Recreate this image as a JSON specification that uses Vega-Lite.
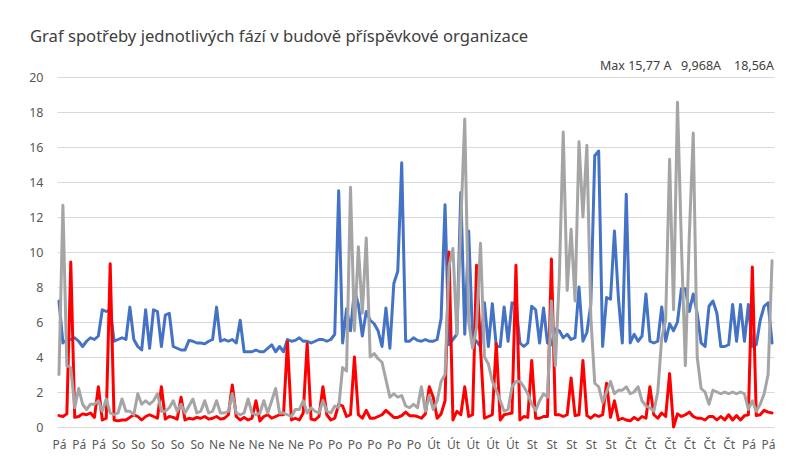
{
 "$schema": "https://vega.github.io/schema/vega-lite/v6.json",
 "width": 717,
 "height": 350,
 "autosize": {"type": "none"},
 "padding": {"left": 57, "top": 77, "right": 19, "bottom": 42},
 "background": "white",
 "title": {"text": "Graf spotřeby jednotlivých fází v budově příspěvkové organizace", "anchor": "start", "frame": "group", "dx": -27, "offset": 14, "fontSize": 16.6, "font": "Noto Sans", "fontWeight": "normal", "color": "#404040"},
 "config": {"view": {"stroke": null}, "font": "Noto Sans"},
 "layer": [
  {
   "data": {"values": [
{"i":0,"L1":7.2,"L2":0.65,"L3":3.0},{"i":1,"L1":4.8,"L2":0.6,"L3":12.67},{"i":2,"L1":5.0,"L2":0.75,"L3":3.5},{"i":3,"L1":5.0,"L2":9.43,"L3":3.4},{"i":4,"L1":5.1,"L2":0.55,"L3":1.1},{"i":5,"L1":4.9,"L2":0.6,"L3":2.2},{"i":6,"L1":4.6,"L2":0.75,"L3":1.3},{"i":7,"L1":4.9,"L2":0.7,"L3":1.0},{"i":8,"L1":5.1,"L2":0.8,"L3":1.3},{"i":9,"L1":5.0,"L2":0.55,"L3":1.3},
{"i":10,"L1":5.2,"L2":2.3,"L3":1.5},{"i":11,"L1":6.7,"L2":0.4,"L3":0.9},{"i":12,"L1":6.6,"L2":0.5,"L3":1.6},{"i":13,"L1":6.7,"L2":9.33,"L3":0.8},{"i":14,"L1":4.9,"L2":0.4,"L3":0.7},{"i":15,"L1":5.0,"L2":0.35,"L3":0.8},{"i":16,"L1":5.1,"L2":0.4,"L3":1.6},{"i":17,"L1":5.0,"L2":0.4,"L3":0.9},{"i":18,"L1":6.85,"L2":0.55,"L3":0.9},{"i":19,"L1":5.0,"L2":0.7,"L3":0.7},
{"i":20,"L1":4.6,"L2":0.6,"L3":1.9},{"i":21,"L1":4.4,"L2":0.4,"L3":1.3},{"i":22,"L1":6.7,"L2":0.6,"L3":1.5},{"i":23,"L1":4.5,"L2":0.7,"L3":1.3},{"i":24,"L1":6.7,"L2":0.6,"L3":1.5},{"i":25,"L1":6.6,"L2":0.5,"L3":1.9},{"i":26,"L1":4.6,"L2":2.3,"L3":0.9},{"i":27,"L1":6.4,"L2":0.45,"L3":0.9},{"i":28,"L1":6.5,"L2":0.6,"L3":1.1},{"i":29,"L1":4.6,"L2":0.55,"L3":1.5},
{"i":30,"L1":4.5,"L2":0.45,"L3":0.9},{"i":31,"L1":4.4,"L2":1.7,"L3":1.3},{"i":32,"L1":4.4,"L2":0.4,"L3":0.8},{"i":33,"L1":4.95,"L2":0.5,"L3":1.2},{"i":34,"L1":4.9,"L2":0.45,"L3":1.6},{"i":35,"L1":4.8,"L2":0.55,"L3":0.8},{"i":36,"L1":4.8,"L2":0.5,"L3":0.9},{"i":37,"L1":4.75,"L2":0.6,"L3":1.5},{"i":38,"L1":4.9,"L2":0.45,"L3":0.8},{"i":39,"L1":5.0,"L2":0.5,"L3":0.9},
{"i":40,"L1":6.85,"L2":0.6,"L3":1.5},{"i":41,"L1":4.9,"L2":0.45,"L3":0.8},{"i":42,"L1":5.0,"L2":0.5,"L3":0.8},{"i":43,"L1":4.9,"L2":0.7,"L3":0.9},{"i":44,"L1":5.0,"L2":2.4,"L3":1.9},{"i":45,"L1":4.8,"L2":0.6,"L3":0.8},{"i":46,"L1":6.1,"L2":0.4,"L3":0.7},{"i":47,"L1":4.3,"L2":0.55,"L3":0.8},{"i":48,"L1":4.3,"L2":0.4,"L3":1.6},{"i":49,"L1":4.3,"L2":0.5,"L3":0.8},
{"i":50,"L1":4.4,"L2":1.5,"L3":0.7},{"i":51,"L1":4.3,"L2":0.35,"L3":0.8},{"i":52,"L1":4.3,"L2":0.6,"L3":1.5},{"i":53,"L1":4.5,"L2":0.7,"L3":0.8},{"i":54,"L1":4.7,"L2":0.5,"L3":1.5},{"i":55,"L1":4.3,"L2":0.6,"L3":2.2},{"i":56,"L1":4.6,"L2":0.7,"L3":0.8},{"i":57,"L1":4.3,"L2":0.7,"L3":0.8},{"i":58,"L1":5.0,"L2":4.86,"L3":0.7},{"i":59,"L1":4.9,"L2":0.4,"L3":0.6},
{"i":60,"L1":4.95,"L2":0.5,"L3":1.0},{"i":61,"L1":5.1,"L2":0.4,"L3":1.0},{"i":62,"L1":4.9,"L2":0.8,"L3":1.5},{"i":63,"L1":4.9,"L2":4.76,"L3":0.8},{"i":64,"L1":4.8,"L2":0.45,"L3":1.1},{"i":65,"L1":4.9,"L2":0.4,"L3":0.9},{"i":66,"L1":5.0,"L2":0.6,"L3":0.8},{"i":67,"L1":5.0,"L2":2.3,"L3":1.5},{"i":68,"L1":4.9,"L2":0.7,"L3":0.9},{"i":69,"L1":5.0,"L2":0.4,"L3":0.8},
{"i":70,"L1":5.3,"L2":0.5,"L3":1.2},{"i":71,"L1":13.5,"L2":1.3,"L3":1.1},{"i":72,"L1":4.8,"L2":1.2,"L3":3.4},{"i":73,"L1":6.75,"L2":0.6,"L3":3.2},{"i":74,"L1":5.5,"L2":0.7,"L3":13.7},{"i":75,"L1":7.8,"L2":4.0,"L3":5.5},{"i":76,"L1":7.0,"L2":0.7,"L3":10.3},{"i":77,"L1":5.2,"L2":0.5,"L3":6.5},{"i":78,"L1":6.6,"L2":0.95,"L3":10.8},{"i":79,"L1":6.1,"L2":0.5,"L3":4.0},
{"i":80,"L1":5.9,"L2":0.5,"L3":4.2},{"i":81,"L1":5.5,"L2":0.6,"L3":3.9},{"i":82,"L1":4.6,"L2":0.7,"L3":3.7},{"i":83,"L1":6.8,"L2":0.95,"L3":2.7},{"i":84,"L1":4.5,"L2":0.75,"L3":1.7},{"i":85,"L1":8.2,"L2":0.55,"L3":1.9},{"i":86,"L1":8.9,"L2":0.55,"L3":1.7},{"i":87,"L1":15.1,"L2":0.65,"L3":1.8},{"i":88,"L1":4.9,"L2":0.85,"L3":1.2},{"i":89,"L1":4.9,"L2":0.65,"L3":1.1},
{"i":90,"L1":5.1,"L2":0.65,"L3":1.3},{"i":91,"L1":4.95,"L2":0.6,"L3":1.1},{"i":92,"L1":4.9,"L2":0.5,"L3":2.3},{"i":93,"L1":5.0,"L2":0.75,"L3":0.9},{"i":94,"L1":4.9,"L2":2.3,"L3":1.8},{"i":95,"L1":4.9,"L2":1.7,"L3":1.0},{"i":96,"L1":5.0,"L2":0.5,"L3":1.5},{"i":97,"L1":6.2,"L2":0.75,"L3":2.6},{"i":98,"L1":12.7,"L2":1.5,"L3":3.0},{"i":99,"L1":4.7,"L2":10.0,"L3":9.2},
{"i":100,"L1":5.0,"L2":0.4,"L3":10.2},{"i":101,"L1":5.3,"L2":0.9,"L3":5.3},{"i":102,"L1":13.4,"L2":0.7,"L3":11.6},{"i":103,"L1":5.3,"L2":2.3,"L3":17.6},{"i":104,"L1":11.2,"L2":0.6,"L3":6.0},{"i":105,"L1":5.1,"L2":0.7,"L3":4.5},{"i":106,"L1":4.9,"L2":9.24,"L3":5.7},{"i":107,"L1":4.6,"L2":4.5,"L3":10.5},{"i":108,"L1":7.1,"L2":0.5,"L3":4.0},{"i":109,"L1":4.6,"L2":0.6,"L3":3.6},
{"i":110,"L1":7.05,"L2":0.7,"L3":2.6},{"i":111,"L1":4.6,"L2":4.76,"L3":2.1},{"i":112,"L1":4.6,"L2":0.4,"L3":1.5},{"i":113,"L1":6.86,"L2":0.7,"L3":0.9},{"i":114,"L1":4.9,"L2":0.75,"L3":1.0},{"i":115,"L1":7.1,"L2":0.8,"L3":2.3},{"i":116,"L1":7.0,"L2":9.24,"L3":2.6},{"i":117,"L1":4.8,"L2":0.4,"L3":2.6},{"i":118,"L1":4.6,"L2":0.6,"L3":2.3},{"i":119,"L1":4.8,"L2":0.55,"L3":1.9},
{"i":120,"L1":6.9,"L2":3.8,"L3":1.3},{"i":121,"L1":6.7,"L2":0.5,"L3":0.95},{"i":122,"L1":4.8,"L2":0.5,"L3":1.5},{"i":123,"L1":6.8,"L2":0.6,"L3":1.9},{"i":124,"L1":4.8,"L2":0.6,"L3":1.7},{"i":125,"L1":4.7,"L2":9.6,"L3":7.2},{"i":126,"L1":5.6,"L2":0.7,"L3":3.5},{"i":127,"L1":5.5,"L2":0.7,"L3":8.5},{"i":128,"L1":5.1,"L2":0.6,"L3":16.86},{"i":129,"L1":5.3,"L2":0.7,"L3":7.8},
{"i":130,"L1":5.0,"L2":2.8,"L3":11.3},{"i":131,"L1":5.1,"L2":0.65,"L3":7.2},{"i":132,"L1":8.0,"L2":0.7,"L3":16.3},{"i":133,"L1":4.9,"L2":3.8,"L3":12.0},{"i":134,"L1":5.4,"L2":0.65,"L3":16.1},{"i":135,"L1":7.0,"L2":0.5,"L3":6.3},{"i":136,"L1":15.5,"L2":0.7,"L3":2.5},{"i":137,"L1":15.77,"L2":0.6,"L3":2.3},{"i":138,"L1":4.6,"L2":0.7,"L3":1.4},{"i":139,"L1":7.4,"L2":2.5,"L3":2.0},
{"i":140,"L1":7.3,"L2":0.55,"L3":2.6},{"i":141,"L1":11.2,"L2":1.5,"L3":1.9},{"i":142,"L1":7.4,"L2":0.4,"L3":2.1},{"i":143,"L1":4.8,"L2":0.5,"L3":2.1},{"i":144,"L1":13.3,"L2":0.4,"L3":2.3},{"i":145,"L1":4.8,"L2":0.35,"L3":1.9},{"i":146,"L1":5.3,"L2":0.55,"L3":2.0},{"i":147,"L1":4.9,"L2":0.4,"L3":2.3},{"i":148,"L1":5.2,"L2":0.6,"L3":1.5},{"i":149,"L1":7.6,"L2":0.5,"L3":1.2},
{"i":150,"L1":4.9,"L2":2.3,"L3":1.1},{"i":151,"L1":4.8,"L2":0.7,"L3":0.9},{"i":152,"L1":4.9,"L2":0.5,"L3":2.0},{"i":153,"L1":6.86,"L2":0.8,"L3":5.1},{"i":154,"L1":4.9,"L2":0.6,"L3":6.1},{"i":155,"L1":5.9,"L2":3.05,"L3":15.3},{"i":156,"L1":5.5,"L2":0.0,"L3":6.7},{"i":157,"L1":6.0,"L2":0.75,"L3":18.56},{"i":158,"L1":7.9,"L2":0.6,"L3":10.4},{"i":159,"L1":7.9,"L2":0.7,"L3":3.5},
{"i":160,"L1":6.6,"L2":0.85,"L3":10.9},{"i":161,"L1":7.6,"L2":0.6,"L3":16.8},{"i":162,"L1":6.5,"L2":0.5,"L3":4.0},{"i":163,"L1":4.8,"L2":0.5,"L3":2.2},{"i":164,"L1":4.6,"L2":0.4,"L3":2.0},{"i":165,"L1":6.9,"L2":0.6,"L3":1.3},{"i":166,"L1":7.2,"L2":0.6,"L3":2.1},{"i":167,"L1":6.5,"L2":0.4,"L3":2.0},{"i":168,"L1":4.6,"L2":0.6,"L3":1.9},{"i":169,"L1":4.6,"L2":0.4,"L3":2.0},
{"i":170,"L1":4.7,"L2":0.7,"L3":1.9},{"i":171,"L1":7.0,"L2":0.4,"L3":2.0},{"i":172,"L1":4.9,"L2":0.65,"L3":1.9},{"i":173,"L1":7.0,"L2":0.4,"L3":2.0},{"i":174,"L1":4.9,"L2":0.65,"L3":1.9},{"i":175,"L1":7.0,"L2":0.7,"L3":1.0},{"i":176,"L1":4.6,"L2":9.14,"L3":1.5},{"i":177,"L1":4.7,"L2":0.65,"L3":0.9},{"i":178,"L1":6.1,"L2":0.7,"L3":1.3},{"i":179,"L1":6.9,"L2":0.95,"L3":1.9},
{"i":180,"L1":7.1,"L2":0.85,"L3":3.0},{"i":181,"L1":4.8,"L2":0.8,"L3":9.5}
   ]},
   "transform": [{"fold": ["L1", "L2", "L3"], "as": ["faze", "A"]}],
   "mark": {"type": "line", "strokeWidth": 3, "strokeJoin": "round", "strokeCap": "round"},
   "encoding": {
    "x": {"field": "i", "type": "quantitative", "scale": {"domain": [-0.5, 181.5], "nice": false, "zero": false},
          "axis": {"title": null, "tickCount": 200, "values": [0,5,10,15,20,25,30,35,40,45,50,55,60,65,70,75,80,85,90,95,100,105,110,115,120,125,130,135,140,145,150,155,160,165,170,175,180],
                   "labelExpr": "['Pá','Pá','Pá','So','So','So','So','So','Ne','Ne','Ne','Ne','Ne','Po','Po','Po','Po','Po','Po','Út','Út','Út','Út','Út','St','St','St','St','St','Čt','Čt','Čt','Čt','Čt','Čt','Pá','Pá'][round(datum.value/5)]",
                   "grid": false, "ticks": false, "domain": false, "labelFontSize": 12, "labelColor": "#595959", "labelPadding": 12, "labelOverlap": false, "labelFlush": false}},
    "y": {"field": "A", "type": "quantitative", "scale": {"domain": [0, 20], "nice": false},
          "axis": {"title": null, "tickCount": 50, "format": "d", "values": [0,2,4,6,8,10,12,14,16,18,20], "grid": true, "gridColor": "#d9d9d9", "gridWidth": 1, "domain": false, "ticks": false, "labelFontSize": 12.5, "labelColor": "#595959", "labelPadding": 14, "labelOverlap": false}},
    "color": {"field": "faze", "type": "nominal", "scale": {"domain": ["L1", "L2", "L3"], "range": ["#4472C4", "#FF0000", "#A5A5A5"]}, "legend": null}
   }
  },
  {
   "data": {"values": [{"t": "Max 15,77 A\u00a0\u00a0 9,968A\u00a0\u00a0\u00a0 18,56A"}]},
   "mark": {"type": "text", "align": "right", "baseline": "alphabetic", "fontSize": 12.5, "color": "#404040", "dy": -7},
   "encoding": {
    "x": {"datum": 181.5, "type": "quantitative"},
    "y": {"datum": 20, "type": "quantitative"},
    "text": {"field": "t", "type": "nominal"}
   }
  }
 ]
}
